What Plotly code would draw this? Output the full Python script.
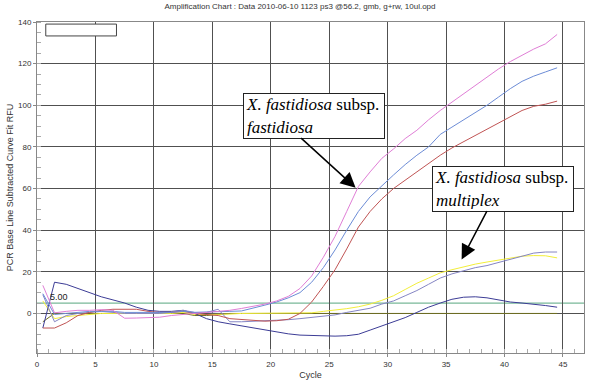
import plotly.graph_objects as go

cycles = [0.5 + i for i in range(45)]

pink = [13.5, 0.3, 1, 1.5, 1.5, 1.8, 1.5, -2.3, -2.2, -2, -1.8, -1, -0.5, 0, 0.3, 0.8, 1.5, 2.4, 3.3, 4.5,
        6, 8.2, 12, 18, 27, 37, 49, 61, 68, 74.5, 79, 84, 88, 93, 97.5, 101.5, 105.5, 109.5, 113.5, 117.5,
        121, 124, 127, 129.5, 134]
blue = [9.5, -0.5, 0, 0.5, 1, 1, 1, 0.5, 0.5, 0.5, 0.5, 0.5, 1, 0.5, 0.7, 1, 1, 1.2, 2.5, 4,
        5.5, 7.5, 10, 15, 22, 30.5, 40, 49, 56, 61.5, 66.5, 71.5, 76, 80, 86, 89.5, 93, 96.5, 100, 104,
        108, 111.5, 114, 116, 118]
red = [-7, -7, -4.5, -1, 0.5, 1.5, 2, 2, 2, 1, 0.5, 0.5, 1, 0, -0.5, -1, -2.5, -3, -3.5, -3.7,
       -3.5, -2.8, 0, 5.5, 13, 21, 31, 41.5, 49, 55, 60, 64, 68, 72, 76, 79.5, 82.5, 85.5, 88.5, 91.5,
       94.5, 97.5, 99.5, 100.5, 102]
navy = [-7, 15, 14, 12, 10, 8, 6.5, 5, 3, 1.5, 1, 1, 1.5, 0, -2.5, -4, -5, -6, -7, -8,
        -9, -9.8, -10.4, -10.6, -10.8, -10.9, -10.7, -10, -8, -6, -4, -2, 0.5, 3, 5, 6.8, 7.8, 8, 7.5, 6.5,
        5.5, 5, 4.5, 3.8, 3]
periwinkle = [9, -4, -1, 0, 0.5, 1, 0.5, 0, 0, 0, 0, 0.5, 1.5, 0.5, 0.5, 2, -4, -4, -3.8, -3.7,
              -3.5, -3, -2.5, -2, -1.5, -0.7, 0.5, 1.5, 2.5, 4.5, 6, 8.5, 11, 14, 17, 19, 20.5, 22, 23, 24.5,
              26, 27.5, 29, 29.5, 29.5]
yellow = [6, -2.5, -1.5, -1, -0.5, 0, 0, 0, 0, 0, 0, 0, 0.5, -0.5, -0.5, -0.5, -0.3, 0, 0, 0,
          0, 0, 0, 0.3, 1, 1.5, 2.3, 3.2, 4.5, 6.3, 8.5, 11.5, 14.5, 17, 19.5, 21, 22.5, 23.7, 24.7, 25.6,
          26.5, 27.5, 27.8, 27.7, 26.7]
olive = [-4, 0, 0, 0, 0, 0, 0, 0, 0, 0, 0, 0, 0, -1, -1, -0.5, 0, 0, 0, 0,
         0, 0, 0, 0, 0, 0, 0, 0, 0, 0, 0, 0, 0, 0, 0, 0, 0, 0, 0, 0,
         0, 0, 0, 0, 0]

threshold = 5.0

series = [
    ("olive", olive, "#6e6e20"),
    ("yellow", yellow, "#f2ee3a"),
    ("navy", navy, "#3c3c96"),
    ("periwinkle", periwinkle, "#8585c4"),
    ("red", red, "#c05454"),
    ("blue", blue, "#6c8cd6"),
    ("pink", pink, "#e07ed6"),
]

fig = go.Figure()
fig.add_hline(y=threshold, line=dict(color="#78b898", width=1.2), layer="below")
for name, vals, col in series:
    fig.add_trace(go.Scatter(x=cycles, y=vals, mode="lines", name=name,
                             line=dict(color=col, width=1), showlegend=False))

fig.add_annotation(x=0.9, y=threshold + 2.7, text="5.00", showarrow=False, xanchor="left",
                   font=dict(family="Liberation Sans", size=9, color="#222"))

# empty legend box
fig.add_shape(type="rect", x0=0.75, x1=6.8, y0=133.3, y1=139,
              line=dict(color="#444", width=1), fillcolor="white")

ann_font = dict(family="Liberation Serif", size=17, color="black")
fig.add_annotation(x=17.6, y=106.0, xanchor="left", yanchor="top", align="left",
                   text="<i>X. fastidiosa</i> subsp.<br><i>fastidiosa</i>",
                   showarrow=False, bgcolor="white", bordercolor="#222", borderwidth=1,
                   borderpad=2, width=136, height=40, font=ann_font)
fig.add_annotation(x=33.76, y=71.0, xanchor="left", yanchor="top", align="left",
                   text="<i>X. fastidiosa</i> subsp.<br><i>multiplex</i>",
                   showarrow=False, bgcolor="white", bordercolor="#222", borderwidth=1,
                   borderpad=2, width=136, height=40, font=ann_font)

for tail, head in [((22.47, 84.9), (27.26, 60.4)), ((38.56, 49.9), (36.33, 25.9))]:
    fig.add_annotation(x=head[0], y=head[1], ax=tail[0], ay=tail[1], xref="x", yref="y",
                       axref="x", ayref="y", text="", showarrow=True, arrowhead=2,
                       arrowsize=2, arrowwidth=1.5, arrowcolor="black", standoff=0)

fig.update_layout(
    width=600, height=384,
    margin=dict(l=37, r=16, t=22, b=31, autoexpand=False),
    paper_bgcolor="white", plot_bgcolor="white",
    title=dict(text="Amplification Chart : Data 2010-06-10 1123 ps3 @56.2, gmb, g+rw, 10ul.opd",
               x=0.5, xanchor="center", y=0.99, yanchor="top",
               font=dict(family="Liberation Sans", size=8, color="#333")),
    font=dict(family="Liberation Sans", size=8, color="#333"),
)
fig.update_xaxes(range=[0, 46.8], tick0=0, dtick=5, showgrid=True, gridcolor="#505050", gridwidth=1,
                 zeroline=False, showline=True, linecolor="#888", mirror=True, automargin=False,
                 ticks="outside", ticklen=3, tickcolor="#888",
                 minor=dict(dtick=1, ticks="inside", ticklen=4, tickcolor="#aaa", showgrid=False),
                 title=dict(text="Cycle", font=dict(size=9, color="#333"), standoff=4))
fig.update_yaxes(range=[-19, 140], tick0=0, dtick=20, showgrid=True, gridcolor="#505050", gridwidth=1,
                 zeroline=False, showline=True, linecolor="#888", mirror=True, automargin=False,
                 ticks="outside", ticklen=3, tickcolor="#888",
                 minor=dict(dtick=5, tick0=0, ticks="inside", ticklen=4, tickcolor="#aaa", showgrid=False),
                 title=dict(text="PCR Base Line Subtracted Curve Fit RFU", font=dict(size=9, color="#333"),
                            standoff=2))

fig.write_html("out.html", config={"displayModeBar": False},
               post_script="document.body.style.margin='0';")
